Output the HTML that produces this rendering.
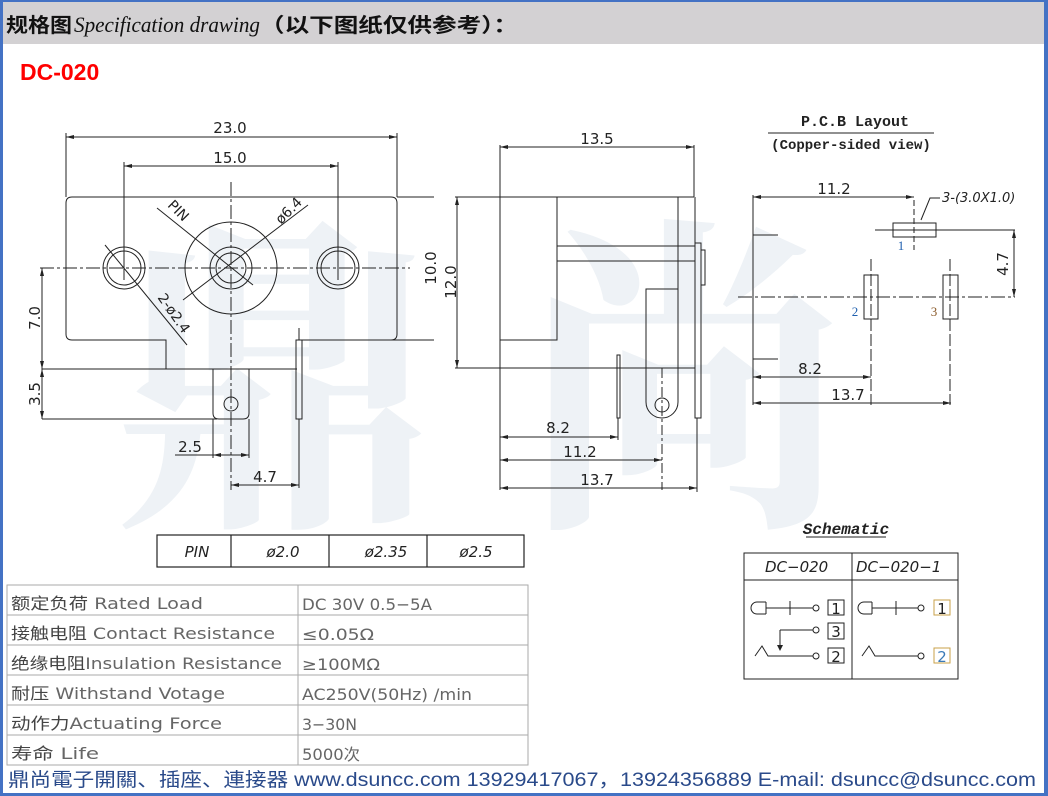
<!DOCTYPE html>
<html><head><meta charset="utf-8"><style>
html,body{margin:0;padding:0;background:#fff;}
body{width:1048px;height:796px;overflow:hidden;position:relative;font-family:"Liberation Sans","Noto Sans CJK SC",sans-serif;}
</style></head><body>
<svg width="1048" height="796" viewBox="0 0 1048 796" xmlns="http://www.w3.org/2000/svg" style="position:absolute;left:0;top:0">
<rect x="0" y="0" width="1048" height="796" fill="#fff"/>
<!-- watermark -->
<text x="110" y="500" font-family="Noto Serif CJK SC, serif" font-size="330" fill="#eef2f6" font-weight="bold">鼎</text>
<text x="520" y="500" font-family="Noto Serif CJK SC, serif" font-size="330" fill="#eef2f6" font-weight="bold">尚</text>
<!-- header -->
<rect x="0" y="2" width="1048" height="42" fill="#d3d1d3"/>
<rect x="0" y="0" width="1048" height="2" fill="#4472c4"/>
<rect x="0" y="0" width="3" height="796" fill="#4472c4"/>
<rect x="1044" y="0" width="4" height="796" fill="#4472c4"/>
<rect x="0" y="793" width="1048" height="3" fill="#4472c4"/>
<text x="6" y="32" font-size="20" font-weight="bold" font-family="Noto Sans CJK SC, sans-serif" fill="#111" textLength="66" lengthAdjust="spacingAndGlyphs">规格图</text>
<text x="74" y="32" font-size="22" font-style="italic" font-family="Liberation Serif, serif" fill="#111" textLength="186" lengthAdjust="spacingAndGlyphs">Specification drawing</text>
<text x="260" y="32" font-size="20" font-weight="bold" font-family="Noto Sans CJK SC, sans-serif" fill="#111" textLength="258" lengthAdjust="spacingAndGlyphs">（以下图纸仅供参考）：</text>
<text x="20" y="80" font-size="23" font-weight="bold" fill="#f00">DC-020</text>

<g stroke="#222" stroke-width="1" fill="none">
<!-- FRONT VIEW -->
<path d="M66 137H397 M66 133V197 M397 133V197 M124 166H338 M124 162V280 M338 162V280"/>
<path d="M72 197H391Q397 197 397 203V334Q397 340 391 340H297 M397 197H434 M391 340H434 M72 197Q66 197 66 203V334Q66 340 72 340H166V369 M42 369H297 M42 419H217"/>
<circle cx="124" cy="268" r="21"/><circle cx="124" cy="268" r="17"/>
<circle cx="338" cy="268" r="21"/><circle cx="338" cy="268" r="17"/>
<circle cx="231" cy="268" r="46"/><circle cx="231" cy="268" r="21"/><circle cx="231" cy="268" r="15"/>
<path d="M40 268H410 M231 182V490" stroke-dasharray="14,3,3,3"/>
<path d="M213 369V413Q213 419 219 419H243Q249 419 249 413V369"/>
<circle cx="231" cy="404" r="7"/>
<rect x="296" y="340" width="6" height="79"/><path d="M299 328V340"/>
<path d="M42 268V419 M213 419V458 M249 419V458 M175 455H249 M231 485H299 M299 419V488"/>
<path d="M157 208L253 285 M308 205L183 300 M105 245L187 345"/>
<!-- SIDE VIEW -->
<path d="M500 147H694 M500 145V490 M694 145V197 M455 197H694 M457 197V368 M455 368H695"/>
<rect x="500" y="197" width="57" height="143"/>
<path d="M557 246H695 M557 261H695 M678 197V368 M695 197V368"/>
<path d="M646 368V402A16 16 0 0 0 678 402V289H646V368"/>
<circle cx="662" cy="405" r="7"/>
<path d="M662 368V490" stroke-dasharray="10,3,3,3"/>
<rect x="617" y="355" width="3" height="63"/>
<rect x="695" y="243" width="6" height="175"/><rect x="701" y="250" width="4" height="35"/>
<path d="M500 437H618 M618 418V440 M500 460H662 M500 488H697 M697 418V492"/>
<!-- PCB -->
<path d="M768 133H934 M753 195V405 M753 197H914 M753 235H778 M753 359H778 M875 230H1015 M1014 230V297"/>
<rect x="893" y="223" width="43" height="14"/>
<path d="M914 200V250" stroke-dasharray="6,3"/>
<path d="M921 220L930 198H940"/>
<path d="M738 297H1015" stroke-dasharray="14,3,3,3"/>
<rect x="864" y="275" width="14" height="44"/><rect x="943" y="275" width="15" height="44"/>
<path d="M871 259V405 M950 259V405" stroke-dasharray="12,3"/>
<path d="M753 377H871 M753 403H951"/>
<!-- Schematic -->
<path d="M806 537H886"/>
<rect x="744" y="553" width="214" height="126"/>
<path d="M744 580H958 M852 553V679"/>
</g>
<g fill="#222">
<path d="M66 137l8-2v4z M397 137l-8-2v4z M124 166l8-2v4z M338 166l-8-2v4z M42 268l-2 8h4z M42 369l-2-8h4z M42 369l-2 8h4z M42 419l-2-8h4z M213 455l8-2v4z M249 455l-8-2v4z M231 485l8-2v4z M299 485l-8-2v4z M500 147l8-2v4z M694 147l-8-2v4z M457 197l-2 8h4z M457 368l-2-8h4z M500 437l8-2v4z M618 437l-8-2v4z M500 460l8-2v4z M662 460l-8-2v4z M500 488l8-2v4z M697 488l-8-2v4z M753 197l8-2v4z M914 197l-8-2v4z M1014 230l-2 8h4z M1014 297l-2-8h4z M753 377l8-2v4z M871 377l-8-2v4z M753 403l8-2v4z M951 403l-8-2v4z"/>
</g>
<g font-family="DejaVu Sans, sans-serif" font-size="15" fill="#222" text-anchor="middle">
<text x="230" y="133">23.0</text><text x="230" y="163">15.0</text>
<text x="190" y="452">2.5</text><text x="265" y="482">4.7</text>
<text transform="translate(40 318) rotate(-90)">7.0</text>
<text transform="translate(40 394) rotate(-90)">3.5</text>
<text transform="translate(436 268) rotate(-90)">10.0</text>
<text transform="translate(456 282) rotate(-90)">12.0</text>
<text transform="translate(175 214) rotate(45)" font-size="14">PIN</text>
<text transform="translate(292 214) rotate(-45)" font-size="14">ø6.4</text>
<text transform="translate(170 316) rotate(55)" font-size="14">2-ø2.4</text>
<text x="597" y="144">13.5</text><text x="558" y="433">8.2</text><text x="580" y="457">11.2</text><text x="597" y="485">13.7</text>
<text x="834" y="194">11.2</text><text x="810" y="374">8.2</text><text x="848" y="400">13.7</text>
<text transform="translate(1008 264) rotate(-90)">4.7</text>
</g>
<text x="942" y="202" font-family="DejaVu Sans, sans-serif" font-size="13" font-style="italic" fill="#222">3-(3.0X1.0)</text>
<text x="901" y="250" font-family="Liberation Serif, serif" font-size="13" fill="#1f5fae" text-anchor="middle">1</text>
<text x="855" y="316" font-family="Liberation Serif, serif" font-size="13" fill="#1f5fae" text-anchor="middle">2</text>
<text x="934" y="316" font-family="Liberation Serif, serif" font-size="13" fill="#8a5a2a" text-anchor="middle">3</text>
<text x="855" y="126" font-family="Liberation Mono, monospace" font-size="15" font-weight="bold" fill="#222" text-anchor="middle">P.C.B Layout</text>
<text x="851" y="149" font-family="Liberation Mono, monospace" font-size="14" font-weight="bold" fill="#222" text-anchor="middle">(Copper-sided view)</text>
<text x="846" y="534" font-family="Liberation Mono, monospace" font-size="16" font-weight="bold" font-style="italic" fill="#222" text-anchor="middle">Schematic</text>
<g font-family="DejaVu Sans, sans-serif" font-size="15" font-style="italic" fill="#222">
<text x="765" y="572">DC−020</text><text x="856" y="572">DC−020−1</text>
</g>
<!-- schematic symbols -->
<g stroke="#222" stroke-width="1" fill="none">
<path d="M766 602H757A6 6 0 0 0 757 614H766 M766 602V614 M766 608H790 M790 601V615 M790 608H813"/>
<circle cx="816" cy="608" r="3"/><rect x="828" y="600" width="16" height="15"/>
<path d="M780 640V648 M780 630H813"/><circle cx="816" cy="630" r="3"/><rect x="828" y="623" width="16" height="16"/>
<path d="M755 656L762 646L768 656H813 M780 630V650"/><circle cx="816" cy="656" r="3"/><rect x="828" y="648" width="16" height="15"/>
<path d="M872 602H864A6 6 0 0 0 864 614H872 M872 602V614 M872 608H896 M896 601V615 M896 608H918"/>
<circle cx="921" cy="608" r="3"/><rect x="934" y="600" width="16" height="15" stroke="#c9a24a"/>
<path d="M862 656L869 646L875 656H918"/><circle cx="921" cy="656" r="3"/><rect x="934" y="648" width="16" height="15" stroke="#c9a24a"/>
</g>
<path d="M780 651l-3-6h6z" fill="#222"/>
<g font-family="DejaVu Sans, sans-serif" font-size="15" fill="#222" text-anchor="middle">
<text x="836" y="614">1</text><text x="836" y="637">3</text><text x="836" y="662">2</text>
<text x="942" y="614">1</text><text x="942" y="662" fill="#3a7ab8">2</text>
</g>
<!-- PIN table -->
<g stroke="#222" stroke-width="1.2" fill="none">
<rect x="157" y="535" width="367" height="32"/><path d="M231 535V567 M329 535V567 M427 535V567"/>
</g>
<g font-family="DejaVu Sans, sans-serif" font-size="15" font-style="italic" fill="#222" text-anchor="middle">
<text x="197" y="557">PIN</text><text x="283" y="557">ø2.0</text><text x="386" y="557">ø2.35</text><text x="476" y="557">ø2.5</text>
</g>
<!-- spec table -->
<g stroke="#aaa" stroke-width="1" fill="none">
<rect x="7" y="585" width="521" height="180"/>
<path d="M7 615H528 M7 645H528 M7 675H528 M7 705H528 M7 735H528 M298 585V765"/>
</g>
<g font-size="16" fill="#666" font-family="DejaVu Sans, 'Noto Sans CJK SC', sans-serif" lengthAdjust="spacingAndGlyphs">
<text x="11" y="609" textLength="192" lengthAdjust="spacingAndGlyphs"><tspan fill="#444">额定负荷</tspan> Rated Load</text>
<text x="11" y="639" textLength="264" lengthAdjust="spacingAndGlyphs"><tspan fill="#444">接触电阻</tspan> Contact Resistance</text>
<text x="11" y="669" textLength="271" lengthAdjust="spacingAndGlyphs"><tspan fill="#444">绝缘电阻</tspan>Insulation Resistance</text>
<text x="11" y="699" textLength="214" lengthAdjust="spacingAndGlyphs"><tspan fill="#444">耐压</tspan>  Withstand Votage</text>
<text x="11" y="729" textLength="211" lengthAdjust="spacingAndGlyphs"><tspan fill="#444">动作力</tspan>Actuating  Force</text>
<text x="11" y="759" textLength="88" lengthAdjust="spacingAndGlyphs"><tspan fill="#444">寿命</tspan>   Life</text>
<text x="302" y="610" textLength="130" lengthAdjust="spacingAndGlyphs">DC 30V 0.5−5A</text>
<text x="302" y="640" textLength="72" lengthAdjust="spacingAndGlyphs">≤0.05Ω</text>
<text x="302" y="670" textLength="78" lengthAdjust="spacingAndGlyphs">≥100MΩ</text>
<text x="302" y="700" textLength="170" lengthAdjust="spacingAndGlyphs">AC250V(50Hz) /min</text>
<text x="302" y="730" textLength="55" lengthAdjust="spacingAndGlyphs">3−30N</text>
<text x="302" y="760" textLength="58" lengthAdjust="spacingAndGlyphs">5000次</text>
</g>
<text x="8" y="786" font-family="Liberation Sans, 'Noto Sans CJK SC', sans-serif" font-size="19" fill="#2a4a8a" textLength="1028" lengthAdjust="spacingAndGlyphs">鼎尚電子開關、插座、連接器   www.dsuncc.com   13929417067，13924356889  E-mail: dsuncc@dsuncc.com</text>
</svg>
</body></html>
